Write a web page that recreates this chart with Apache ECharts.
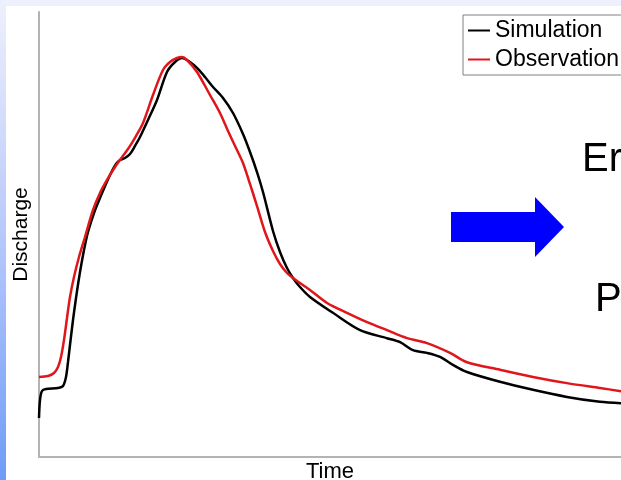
<!DOCTYPE html>
<html>
<head>
<meta charset="utf-8">
<script src="https://cdn.jsdelivr.net/npm/echarts@6/dist/echarts.min.js"></script>
<style>
html,body{margin:0;padding:0;background:#fff;}
#chart{width:621px;height:480px;}
</style>
</head>
<body>
<div id="chart"></div>
<script>
// Time (hours) and discharge (relative units)
const simTime = [0, 0.41, 1.24, 2.89, 7.84, 9.90, 11.13, 11.96, 12.78, 14.02, 15.26, 16.91, 18.56, 20.21, 22.68, 25.15, 29.28, 31.75, 33.40, 35.46, 37.53, 39.59, 41.65, 44.95, 48.66, 52.78, 56.08, 58.97, 62.27, 65.15, 68.45, 71.75, 75.88, 80.00, 84.12, 87.01, 89.90, 92.37, 96.49, 99.38, 102.27, 104.74, 107.63, 111.75, 121.2, 132.4, 143.5, 148.9, 154.2, 160.0, 165.4, 170.7, 176.5, 190.1, 203.7, 217.7, 231.3, 240];
const simQ    = [8.76, 12.81, 14.83, 15.28, 15.51, 15.96, 17.98, 21.35, 25.17, 30.79, 35.73, 41.57, 46.52, 50.56, 54.83, 58.20, 63.37, 65.84, 66.74, 67.19, 68.09, 69.89, 71.91, 75.73, 80.22, 86.52, 88.76, 89.66, 88.76, 87.42, 85.39, 83.15, 80.67, 77.30, 72.58, 68.54, 64.04, 59.55, 50.79, 46.07, 42.47, 40.22, 38.20, 35.96, 32.4, 28.5, 26.7, 25.8, 24.0, 23.4, 22.5, 20.7, 19.1, 16.9, 15.1, 13.5, 12.4, 12.1];
const obsTime = [0, 3.71, 6.19, 7.84, 9.07, 10.31, 11.55, 12.78, 14.43, 16.49, 18.97, 22.27, 25.15, 28.04, 32.16, 36.70, 40.00, 42.89, 47.01, 51.13, 54.02, 56.91, 58.97, 61.03, 65.15, 70.52, 74.64, 77.94, 81.24, 84.12, 87.01, 89.90, 93.20, 96.49, 99.38, 102.27, 104.74, 107.63, 111.75, 118.8, 127.0, 135.3, 143.5, 151.8, 160.0, 169.5, 176.5, 190.1, 203.7, 217.7, 231.3, 240];
const obsQ    = [17.98, 18.20, 18.88, 20.22, 22.47, 26.29, 31.24, 35.96, 40.45, 44.94, 49.44, 55.51, 59.33, 62.25, 65.84, 69.21, 72.13, 75.06, 81.35, 86.97, 88.76, 89.66, 89.89, 89.21, 86.52, 81.35, 77.30, 73.26, 69.44, 66.07, 61.35, 56.40, 50.56, 46.29, 43.37, 41.35, 40.22, 39.10, 37.53, 34.6, 32.4, 30.3, 28.5, 26.7, 25.6, 23.4, 21.3, 19.6, 18.0, 16.6, 15.5, 14.8];
const seriesNames = ['Simulation', 'Observation'];
const xName = 'Time';
const yName = 'Discharge';

const zip = (a, b) => a.map((v, i) => [v, b[i]]);
const FONT = '"Liberation Sans", Arial, sans-serif';

const chart = echarts.init(document.getElementById('chart'), null, {renderer: 'canvas'});
chart.setOption({
  animation: false,
  backgroundColor: '#ffffff',
  grid: {left: 39, right: 0, top: 12, bottom: 23, containLabel: false, outerBoundsMode: 'none'},
  xAxis: {
    type: 'value', min: 0, max: 240,
    name: xName, nameLocation: 'middle', nameGap: 4,
    nameTextStyle: {fontFamily: FONT, fontSize: 22, color: '#000', verticalAlign: 'top'},
    axisLine: {show: true, lineStyle: {color: '#b3b3b3', width: 2}},
    axisTick: {show: false}, axisLabel: {show: false}, splitLine: {show: false}
  },
  yAxis: {
    type: 'value', min: 0, max: 100,
    name: yName, nameLocation: 'middle', nameGap: 7,
    nameTextStyle: {fontFamily: FONT, fontSize: 21, color: '#000'},
    axisLine: {show: true, lineStyle: {color: '#b3b3b3', width: 2}},
    axisTick: {show: false}, axisLabel: {show: false}, splitLine: {show: false}
  },
  legend: {
    orient: 'vertical', left: 463, top: 15,
    data: seriesNames,
    icon: 'rect', itemWidth: 22, itemHeight: 2, itemGap: 6,
    padding: [4, 60, 4, 5],
    borderColor: '#808080', borderWidth: 1,
    textStyle: {fontFamily: FONT, fontSize: 23, color: '#000'}
  },
  graphic: [
    {type: 'rect', shape: {x: 0, y: 0, width: 621, height: 6}, style: {fill: '#eef0fc'}, silent: true},
    {type: 'rect', shape: {x: 0, y: 0, width: 6, height: 480},
     style: {fill: new echarts.graphic.LinearGradient(0, 0, 0, 1, [
       {offset: 0, color: '#eef0fc'}, {offset: 0.5, color: '#b6c8fb'}, {offset: 1, color: '#6e9cf7'}])}, silent: true},
    {type: 'polygon', shape: {points: [[451, 212], [535, 212], [535, 197], [564, 227], [535, 257], [535, 242], [451, 242]]},
     style: {fill: '#0000ff'}, silent: true},
    {type: 'text', x: 582, y: 140, style: {text: 'Er', font: '40px ' + FONT, fill: '#000', verticalAlign: 'top'}, silent: true},
    {type: 'text', x: 595, y: 280, style: {text: 'P', font: '40px ' + FONT, fill: '#000', verticalAlign: 'top'}, silent: true}
  ],
  series: [
    {name: seriesNames[0], type: 'line', data: zip(simTime, simQ), showSymbol: false, smooth: 0.3,
     color: '#000000', lineStyle: {color: '#000000', width: 2.5}},
    {name: seriesNames[1], type: 'line', data: zip(obsTime, obsQ), showSymbol: false, smooth: 0.3,
     color: '#e0161b', lineStyle: {color: '#e0161b', width: 2.5}}
  ]
});
</script>
</body>
</html>
